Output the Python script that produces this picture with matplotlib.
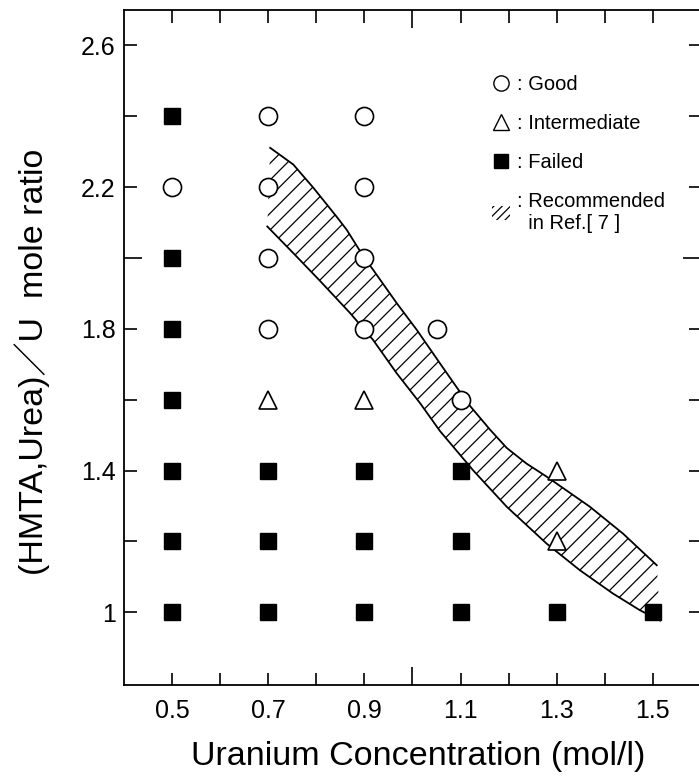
import matplotlib
matplotlib.use("Agg")
import matplotlib.pyplot as plt
from matplotlib.lines import Line2D
from matplotlib.patches import Patch

plt.rcParams['font.family'] = ['Liberation Sans', 'Noto Sans CJK JP', 'DejaVu Sans']
plt.rcParams['hatch.linewidth'] = 0.9

# ---- data ----
good_x = [0.5, 0.7, 0.7, 0.7, 0.7, 0.9, 0.9, 0.9, 0.9, 1.05, 1.1]
good_y = [2.2, 2.4, 2.2, 2.0, 1.8, 2.4, 2.2, 2.0, 1.8, 1.8, 1.6]

inter_x = [0.7, 0.9, 1.3, 1.3]
inter_y = [1.6, 1.6, 1.4, 1.2]

failed_x = [0.5, 0.5, 0.5, 0.5, 0.5, 0.5, 0.5,
            0.7, 0.7, 0.7, 0.9, 0.9, 0.9,
            1.1, 1.1, 1.1, 1.3, 1.5]
failed_y = [2.4, 2.0, 1.8, 1.6, 1.4, 1.2, 1.0,
            1.4, 1.2, 1.0, 1.4, 1.2, 1.0,
            1.4, 1.2, 1.0, 1.0, 1.0]

# recommended band (Ref. 7), upper and lower edges
upper_x = [0.704, 0.752, 0.794, 0.842, 0.863, 0.900, 0.918, 0.967, 1.009,
           1.057, 1.092, 1.120, 1.161, 1.196, 1.237, 1.279, 1.369, 1.438, 1.508]
upper_y = [2.311, 2.264, 2.198, 2.117, 2.080, 2.000, 1.967, 1.873, 1.797,
           1.703, 1.635, 1.582, 1.516, 1.464, 1.420, 1.383, 1.298, 1.222, 1.133]
lower_x = [0.698, 0.752, 0.808, 0.870, 0.918, 0.967, 1.016, 1.057, 1.126,
           1.196, 1.279, 1.348, 1.417, 1.473, 1.515]
lower_y = [2.089, 2.014, 1.935, 1.845, 1.769, 1.675, 1.590, 1.512, 1.401,
           1.298, 1.194, 1.119, 1.053, 1.006, 0.977]

x_ticks = [0.5, 0.6, 0.7, 0.8, 0.9, 1.0, 1.1, 1.2, 1.3, 1.4, 1.5]
x_labels = ['0.5', '', '0.7', '', '0.9', '', '1.1', '', '1.3', '', '1.5']
y_ticks = [1.0, 1.2, 1.4, 1.6, 1.8, 2.0, 2.2, 2.4, 2.6]
y_labels = ['1', '', '1.4', '', '1.8', '', '2.2', '', '2.6']

# ---- figure ----
fig = plt.figure(figsize=(6.99, 7.78), dpi=100)
ax = fig.add_axes([124/699, 1 - 685/778, 577/699, 675/778])

# hatched band
ax.fill(upper_x + lower_x[::-1], upper_y + lower_y[::-1],
        facecolor='white', edgecolor='black', hatch='//', linewidth=0, zorder=1)
ax.plot(upper_x, upper_y, color='black', lw=1.3, zorder=2)
ax.plot(lower_x, lower_y, color='black', lw=1.3, zorder=2)

ax.plot(good_x, good_y, 'o', ms=13, mfc='white', mec='black', mew=1.2, zorder=3)
ax.plot(inter_x, inter_y, '^', ms=13, mfc='white', mec='black', mew=1.2, zorder=3)
ax.plot(failed_x, failed_y, 's', ms=12, mfc='black', mec='black', zorder=3)

ax.set_xlim(0.4, 1.6)
ax.set_ylim(0.795, 2.70)
ax.set_xticks(x_ticks)
ax.set_xticklabels(x_labels)
ax.set_yticks(y_ticks)
ax.set_yticklabels(y_labels)
ax.tick_params(direction='in', top=True, right=True, length=9, width=1.2,
               labelsize=18)
ax.tick_params(axis='x', pad=10)
ax.tick_params(axis='y', pad=6)
for sp in ax.spines.values():
    sp.set_linewidth(1.3)

# the middle ticks are drawn a bit longer
for t, v in zip(ax.xaxis.get_major_ticks(), x_ticks):
    if abs(v - 1.0) < 1e-6:
        t.tick1line.set_markersize(13)
        t.tick2line.set_markersize(13)
for t, v in zip(ax.yaxis.get_major_ticks(), y_ticks):
    if abs(v - 2.0) < 1e-6:
        t.tick1line.set_markersize(13)
        t.tick2line.set_markersize(13)

# legend
handles = [
    Line2D([], [], marker='o', ls='none', ms=11, mfc='white', mec='black', mew=1.0),
    Line2D([], [], marker='^', ls='none', ms=11, mfc='white', mec='black', mew=1.0),
    Line2D([], [], marker='s', ls='none', ms=10, mfc='black', mec='black'),
    Patch(facecolor='white', edgecolor='black', hatch='////', linewidth=0),
]
labels = [': Good', ': Intermediate', ': Failed', ': Recommended\n  in Ref.[ 7 ]']
ax.legend(handles, labels, loc='upper left', bbox_to_anchor=(0.638, 0.904),
          frameon=False, fontsize=14.5, handlelength=0.9, handletextpad=0.35,
          labelspacing=1.0, borderpad=0, borderaxespad=0)

fig.text(418/699, 1 - 756/778, 'Uranium Concentration (mol/l)',
         ha='center', va='center', fontsize=24.5)
fig.text(32/699, 1 - 362/778, '(HMTA,Urea)／U  mole ratio',
         ha='center', va='center', rotation=90, fontsize=24.5)

fig.savefig('out.png', dpi=100, facecolor='white')
